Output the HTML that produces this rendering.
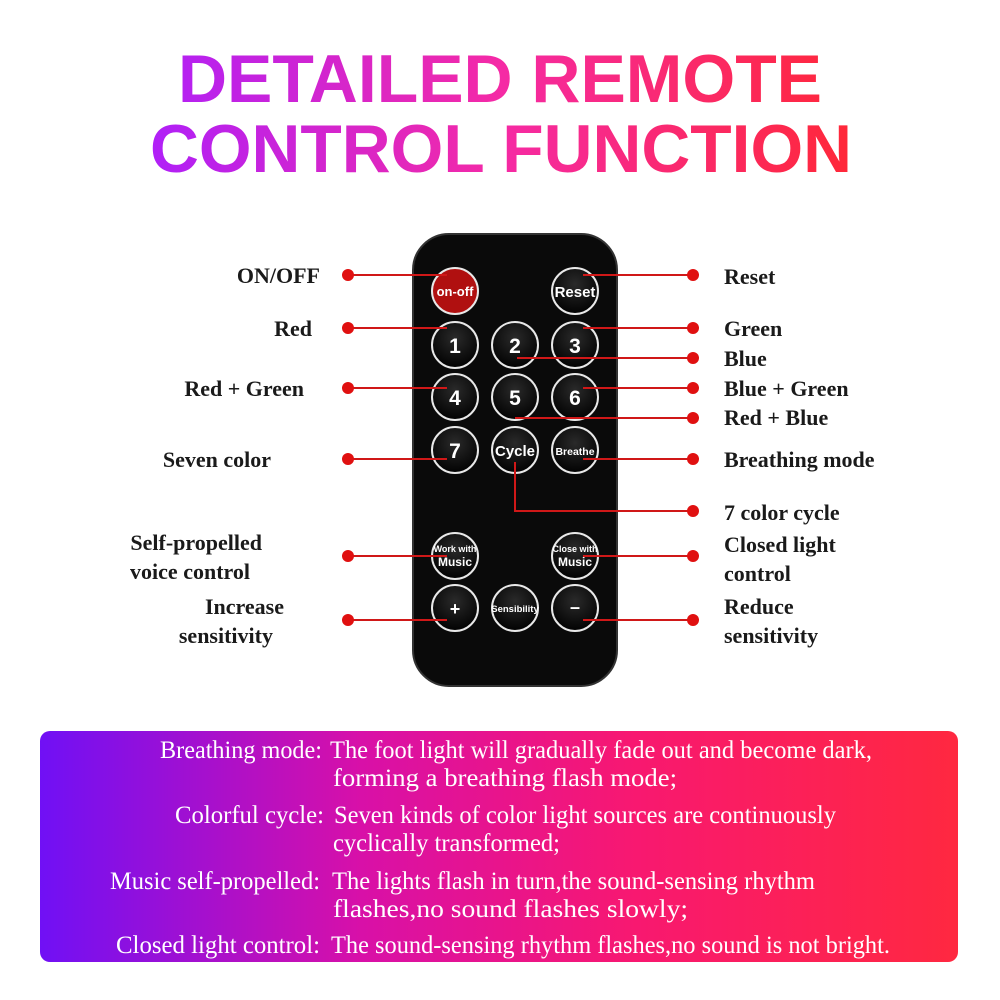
<!DOCTYPE html>
<html><head><meta charset="utf-8"><style>
html,body{margin:0;padding:0;background:#fff;}
svg{display:block;}
.l{font-family:"Liberation Serif",serif;font-size:22px;fill:#1a1a1a;font-weight:bold;}
.b{font-family:"Liberation Sans",sans-serif;fill:#fff;font-weight:bold;text-anchor:middle;}
.t{font-family:"Liberation Serif",serif;font-size:25px;fill:#fff;}
</style></head><body>
<svg width="1000" height="1000" viewBox="0 0 1000 1000" xmlns="http://www.w3.org/2000/svg">
<defs>
<linearGradient id="tg" x1="150" y1="0" x2="852" y2="0" gradientUnits="userSpaceOnUse">
<stop offset="0" stop-color="#b020f8"/><stop offset="0.5" stop-color="#f52aa5"/><stop offset="1" stop-color="#ff2838"/></linearGradient>
<linearGradient id="bg" x1="40" y1="0" x2="958" y2="0" gradientUnits="userSpaceOnUse">
<stop offset="0" stop-color="#7010f5"/><stop offset="0.35" stop-color="#d810a8"/><stop offset="0.65" stop-color="#f81870"/><stop offset="1" stop-color="#ff2840"/></linearGradient>
<radialGradient id="btn" cx="0.5" cy="0.35" r="0.6"><stop offset="0" stop-color="#2a2a2a"/><stop offset="1" stop-color="#050505"/></radialGradient>
</defs>
<text x="178" y="102" font-family="Liberation Sans,sans-serif" font-weight="bold" font-size="68" fill="url(#tg)" textLength="644" lengthAdjust="spacingAndGlyphs">DETAILED REMOTE</text>
<text x="150" y="172" font-family="Liberation Sans,sans-serif" font-weight="bold" font-size="68" fill="url(#tg)" textLength="702" lengthAdjust="spacingAndGlyphs">CONTROL FUNCTION</text>

<rect x="413" y="234" width="204" height="452" rx="36" fill="#0a0a0a" stroke="#333" stroke-width="2"/>

<g fill="url(#btn)" stroke="#e8e8e8" stroke-width="2">
<circle cx="455" cy="291" r="23" fill="#b01010"/>
<circle cx="575" cy="291" r="23"/>
<circle cx="455" cy="345" r="23"/><circle cx="515" cy="345" r="23"/><circle cx="575" cy="345" r="23"/>
<circle cx="455" cy="397" r="23"/><circle cx="515" cy="397" r="23"/><circle cx="575" cy="397" r="23"/>
<circle cx="455" cy="450" r="23"/><circle cx="515" cy="450" r="23"/><circle cx="575" cy="450" r="23"/>
<circle cx="455" cy="556" r="23"/><circle cx="575" cy="556" r="23"/>
<circle cx="455" cy="608" r="23"/><circle cx="515" cy="608" r="23"/><circle cx="575" cy="608" r="23"/>
</g>
<text class="b" x="455" y="296" font-size="13">on-off</text>
<text class="b" x="575" y="297" font-size="15">Reset</text>
<text class="b" x="455" y="353" font-size="21">1</text>
<text class="b" x="515" y="353" font-size="21">2</text>
<text class="b" x="575" y="353" font-size="21">3</text>
<text class="b" x="455" y="405" font-size="21">4</text>
<text class="b" x="515" y="405" font-size="21">5</text>
<text class="b" x="575" y="405" font-size="21">6</text>
<text class="b" x="455" y="458" font-size="21">7</text>
<text class="b" x="515" y="456" font-size="15">Cycle</text>
<text class="b" x="575" y="455" font-size="10.5">Breathe</text>
<text class="b" x="455" y="552" font-size="9">Work with</text>
<text class="b" x="455" y="566" font-size="12">Music</text>
<text class="b" x="575" y="552" font-size="9">Close with</text>
<text class="b" x="575" y="566" font-size="12">Music</text>
<text class="b" x="455" y="615" font-size="18">+</text>
<text class="b" x="515" y="612" font-size="9.5">Sensibility</text>
<text class="b" x="575" y="613" font-size="18">–</text>

<g stroke="#d01818" stroke-width="2" fill="none">
<line x1="348" y1="275" x2="447" y2="275"/>
<line x1="348" y1="328" x2="447" y2="328"/>
<line x1="348" y1="388" x2="447" y2="388"/>
<line x1="348" y1="459" x2="447" y2="459"/>
<line x1="348" y1="556" x2="447" y2="556"/>
<line x1="348" y1="620" x2="447" y2="620"/>
<line x1="583" y1="275" x2="692" y2="275"/>
<line x1="583" y1="328" x2="692" y2="328"/>
<line x1="517" y1="358" x2="692" y2="358"/>
<line x1="583" y1="388" x2="692" y2="388"/>
<line x1="515" y1="418" x2="692" y2="418"/>
<line x1="583" y1="459" x2="692" y2="459"/>
<polyline points="515,462 515,511 692,511"/>
<line x1="583" y1="556" x2="692" y2="556"/>
<line x1="583" y1="620" x2="692" y2="620"/>
</g>
<g fill="#e01010">
<circle cx="348" cy="275" r="6"/><circle cx="348" cy="328" r="6"/><circle cx="348" cy="388" r="6"/>
<circle cx="348" cy="459" r="6"/><circle cx="348" cy="556" r="6"/><circle cx="348" cy="620" r="6"/>
<circle cx="693" cy="275" r="6"/><circle cx="693" cy="328" r="6"/><circle cx="693" cy="358" r="6"/>
<circle cx="693" cy="388" r="6"/><circle cx="693" cy="418" r="6"/><circle cx="693" cy="459" r="6"/>
<circle cx="693" cy="511" r="6"/><circle cx="693" cy="556" r="6"/><circle cx="693" cy="620" r="6"/>
</g>
<g class="l" text-anchor="end">
<text x="320" y="283">ON/OFF</text>
<text x="312" y="336">Red</text>
<text x="304" y="396">Red + Green</text>
<text x="271" y="467">Seven color</text>
<text x="262" y="550">Self-propelled</text>
<text x="250" y="579">voice control</text>
<text x="284" y="614">Increase</text>
<text x="273" y="643">sensitivity</text>
</g>
<g class="l">
<text x="724" y="284">Reset</text>
<text x="724" y="336">Green</text>
<text x="724" y="366">Blue</text>
<text x="724" y="396">Blue + Green</text>
<text x="724" y="425">Red + Blue</text>
<text x="724" y="467">Breathing mode</text>
<text x="724" y="520">7 color cycle</text>
<text x="724" y="552">Closed light</text>
<text x="724" y="581">control</text>
<text x="724" y="614">Reduce</text>
<text x="724" y="643">sensitivity</text>
</g>

<rect x="40" y="731" width="918" height="231" rx="10" fill="url(#bg)"/>
<g class="t">
<text x="160" y="758" textLength="162" lengthAdjust="spacingAndGlyphs">Breathing mode:</text>
<text x="330" y="758" textLength="542" lengthAdjust="spacingAndGlyphs">The foot light will gradually fade out and become dark,</text>
<text x="333" y="786" textLength="344" lengthAdjust="spacingAndGlyphs">forming a breathing flash mode;</text>
<text x="175" y="823" textLength="149" lengthAdjust="spacingAndGlyphs">Colorful cycle:</text>
<text x="334" y="823" textLength="502" lengthAdjust="spacingAndGlyphs">Seven kinds of color light sources are continuously</text>
<text x="333" y="851" textLength="227" lengthAdjust="spacingAndGlyphs">cyclically transformed;</text>
<text x="110" y="889" textLength="210" lengthAdjust="spacingAndGlyphs">Music self-propelled:</text>
<text x="332" y="889" textLength="483" lengthAdjust="spacingAndGlyphs">The lights flash in turn,the sound-sensing rhythm</text>
<text x="333" y="917" textLength="355" lengthAdjust="spacingAndGlyphs">flashes,no sound flashes slowly;</text>
<text x="116" y="953" textLength="204" lengthAdjust="spacingAndGlyphs">Closed light control:</text>
<text x="331" y="953" textLength="559" lengthAdjust="spacingAndGlyphs">The sound-sensing rhythm flashes,no sound is not bright.</text>
</g>
</svg>
</body></html>
